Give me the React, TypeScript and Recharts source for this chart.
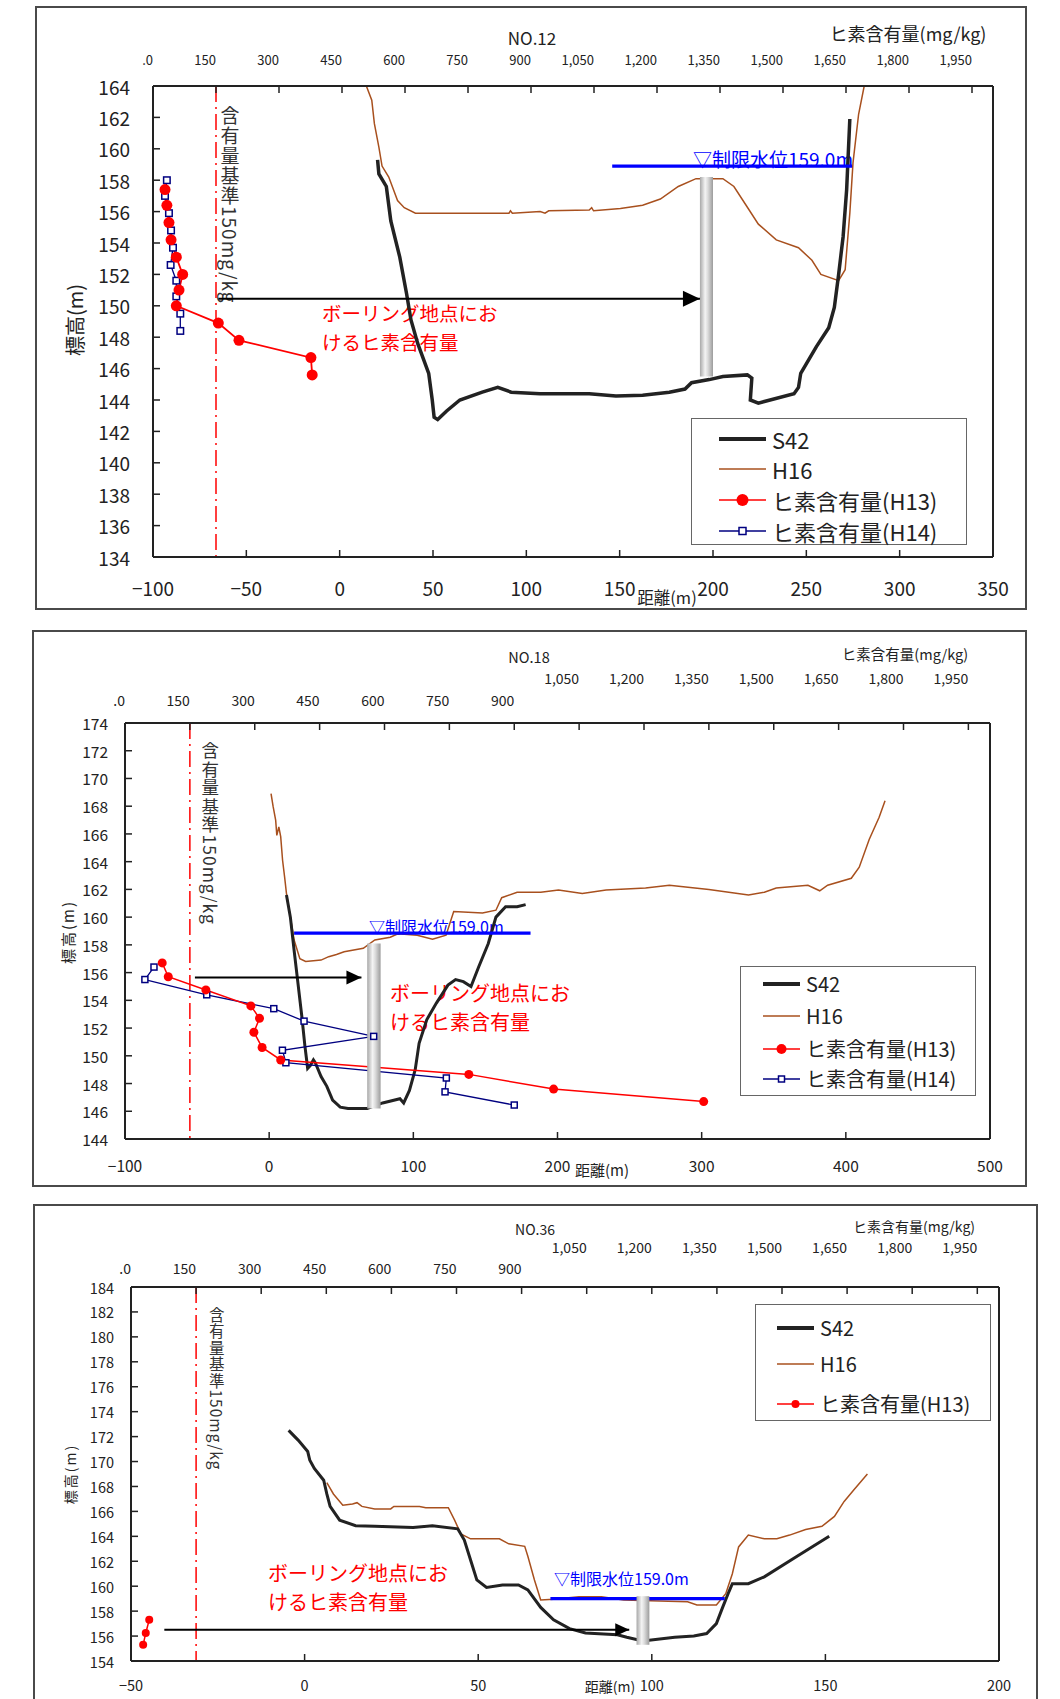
import React from 'react';
import { LineChart, Line, XAxis, YAxis, ReferenceLine, ReferenceArea } from 'recharts';

// shared top axis (ヒ素含有量 mg/kg)
const mgTicks = [0, 150, 300, 450, 600, 750, 900, 1050, 1200, 1350, 1500, 1650, 1800, 1950];
const mgLimit = 150;

// ---- NO.12 ---- [distance m, elevation m] / [mg/kg, elevation m]
const no12XTicks = [-100, -50, 0, 50, 100, 150, 200, 250, 300, 350];
const no12YTicks = [134, 136, 138, 140, 142, 144, 146, 148, 150, 152, 154, 156, 158, 160, 162, 164];
const no12S42 = [
  [20.3, 159.3], [21, 158.4], [25, 157.6], [27.4, 155.4], [32.2, 153.1], [35.8, 150.8], [38.2, 149.1],
  [41.8, 147.6], [47.7, 145.7], [49.6, 144.0], [50.6, 142.9], [52.5, 142.75], [57.3, 143.3], [64.4, 144.0],
  [76.4, 144.5], [84.7, 144.8], [91.9, 144.5], [107.4, 144.4], [133.7, 144.4], [148, 144.25], [162.3, 144.3],
  [176.6, 144.5], [185, 144.7], [188.5, 145.1], [198, 145.3], [205.3, 145.5], [218.4, 145.6], [220.8, 145.4],
  [220, 144.0], [224.3, 143.8], [243.4, 144.4], [245.8, 144.8], [247, 145.7], [255.4, 147.4], [262, 148.6],
  [265, 149.9], [267.3, 152.0], [269.7, 154.4], [271.6, 157.4], [273.3, 161.9],
];
const no12H16 = [
  [14.3, 164], [17.2, 163.1], [18.6, 161.6], [21, 160.1], [22.7, 158.9], [26.3, 158.2], [31, 156.7],
  [34.6, 156.25], [40.6, 155.9], [90.7, 155.9], [91.5, 156.05], [92.5, 155.9], [107.4, 156.0], [110, 155.9],
  [112, 156.05], [133.7, 156.1], [135, 156.25], [136, 156.05], [150.4, 156.2], [162.3, 156.4], [171.8, 156.8],
  [181.4, 157.6], [190.9, 158.1], [205.3, 158.1], [211.2, 157.6], [217.2, 156.5], [224.3, 155.2],
  [233.9, 154.2], [245.8, 153.7], [253, 152.9], [257.8, 152.0], [267.3, 151.6], [270.8, 152.3],
  [273.3, 155.9], [275, 159.1], [278, 162.2], [281, 164],
];
const no12H13 = [
  [28.6, 157.4], [33, 156.4], [38, 155.3], [43, 154.2], [55.5, 153.1], [70.6, 152.0], [61.9, 151.0],
  [55.5, 150.0], [155.5, 148.9], [204.7, 147.8], [376, 146.7], [379, 145.6],
];
const no12H14 = [
  [33, 158.0], [28.6, 157.0], [38, 155.9], [43, 154.8], [47.6, 153.7], [42, 152.6], [55.5, 151.6],
  [55.5, 150.6], [65, 149.5], [65, 148.4],
];
const no12Water = [[146, 158.9], [274.5, 158.9]];
const no12Boring = { from: 193, to: 200, bottom: 145.5, top: 158.2 };
const no12Arrow = [[-65, 150.45], [193, 150.45]];

// ---- NO.18 ----
const no18XTicks = [-100, 0, 100, 200, 300, 400, 500];
const no18YTicks = [144, 146, 148, 150, 152, 154, 156, 158, 160, 162, 164, 166, 168, 170, 172, 174];
const no18S42 = [
  [12, 161.6], [14.7, 160.0], [17.3, 157.6], [20, 155.2], [22.7, 152.8], [24.8, 150.7], [26.7, 149.1],
  [28.5, 149.3], [30.7, 149.7], [32, 149.5], [36, 148.5], [40, 147.8], [44, 146.8], [49.3, 146.3],
  [54.7, 146.2], [68, 146.2], [78.7, 146.6], [90.7, 146.9], [93.3, 146.6], [97.3, 147.5], [101.3, 149.0],
  [104, 150.9], [109.3, 152.6], [116, 153.8], [124, 155.1], [129.3, 155.5], [134.7, 155.35], [140, 155.0],
  [145.3, 156.4], [152, 158.1], [157.3, 160.0], [164, 160.75], [172, 160.75], [177.9, 160.9],
];
const no18H16 = [
  [1.3, 168.9], [2.7, 168.0], [4.5, 167.0], [5.3, 165.9], [6.7, 166.5], [8, 165.8], [9.3, 164.1],
  [10.7, 162.9], [12, 161.7], [14.7, 160.0], [17.3, 158.35], [21.3, 157.0], [25.3, 156.8], [36, 156.9],
  [41.3, 157.15], [46.7, 157.3], [52, 157.5], [65.3, 157.75], [73.3, 158.35], [84, 158.55], [89.3, 158.8],
  [102.7, 158.7], [113.3, 158.4], [122.7, 158.7], [128, 160.4], [148, 160.3], [157.3, 160.5],
  [161.3, 161.4], [172, 161.8], [188.4, 161.8], [200.7, 161.95], [217.2, 161.7], [233.7, 161.95],
  [261.1, 162.1], [277.6, 162.3], [305, 162.0], [332.5, 161.6], [343.5, 161.8], [351.7, 162.1],
  [373.7, 162.3], [381.9, 161.9], [387.4, 162.3], [403.8, 162.8], [409.3, 163.6], [416.2, 165.6],
  [423.1, 167.2], [427.2, 168.4],
];
const no18H13 = [
  [86, 156.7], [100, 155.7], [187, 154.75], [291, 153.6], [311, 152.7], [298, 151.7], [317, 150.6],
  [360, 149.7], [795, 148.66], [991, 147.6], [1338, 146.7],
];
const no18H14 = [
  [67, 156.4], [46, 155.5], [189, 154.4], [344, 153.4], [414, 152.5], [575, 151.4], [364, 150.4],
  [372, 149.5], [743, 148.4], [740, 147.4], [900, 146.45],
];
const no18Water = [[17.3, 158.85], [181.3, 158.85]];
const no18Boring = { from: 68, to: 77.3, bottom: 146.2, top: 158.1 };
const no18Arrow = [[-51.5, 155.65], [64, 155.65]];

// ---- NO.36 ----
const no36XTicks = [-50, 0, 50, 100, 150, 200];
const no36YTicks = [154, 156, 158, 160, 162, 164, 166, 168, 170, 172, 174, 176, 178, 180, 182, 184];
const no36S42 = [
  [-4.6, 172.5], [-1.8, 171.7], [0.9, 170.8], [1.5, 170.1], [2.8, 169.45], [5.5, 168.5], [6.4, 167.4],
  [7.35, 166.4], [10.1, 165.3], [14.7, 164.85], [20.2, 164.8], [31.25, 164.7], [36.8, 164.85],
  [44.1, 164.6], [46, 163.7], [47.8, 162.1], [49.6, 160.5], [52.4, 159.9], [57, 160.1], [61.6, 160.1],
  [64.3, 159.7], [68, 158.3], [71.7, 157.3], [76.3, 156.6], [80.9, 156.25], [90.1, 156.1], [92.8, 155.9],
  [97.4, 155.6], [106.6, 155.9], [112.1, 156.0], [115.8, 156.2], [118.6, 157.0], [120.4, 158.3],
  [122.2, 159.55], [123.2, 160.2], [127.8, 160.2], [132.4, 160.75], [141.5, 162.35], [151.1, 164.0],
];
const no36H16 = [
  [6.4, 168.3], [8.3, 167.4], [11, 166.5], [13.8, 166.6], [15.1, 166.7], [16.5, 166.4], [20.2, 166.2],
  [24.8, 166.2], [25.7, 166.4], [33.1, 166.4], [34.9, 166.3], [41.4, 166.3], [43.2, 165.3], [45, 164.2],
  [47.8, 163.8], [56.1, 163.8], [58.8, 163.4], [63.4, 163.2], [64.3, 162.4], [66.2, 160.5], [68, 158.9],
  [71.7, 158.95], [79, 159.15], [85.5, 159.15], [91.9, 158.9], [104.8, 158.8], [110.3, 158.75],
  [113, 158.5], [118.6, 158.5], [121.3, 159.4], [123.2, 161.0], [125, 163.15], [127.8, 164.1],
  [132.4, 163.8], [136, 163.8], [139.7, 164.1], [144.3, 164.55], [149, 164.8], [152.6, 165.6],
  [155.4, 166.8], [158.1, 167.7], [162.1, 169.0],
];
const no36H13 = [[42, 157.3], [34, 156.25], [28, 155.3]];
const no36Water = [[70.8, 159.0], [121, 159.0]];
const no36Boring = { from: 95.6, to: 99.3, bottom: 155.3, top: 159.2 };
const no36Arrow = [[-40.4, 156.5], [93.5, 156.5]];

const FONT = '"Noto Sans CJK JP", "Noto Sans", sans-serif';
const INK = '#222';
const BROWN = '#a8501e';
const RED = '#ff0000';
const NAVY = '#000080';
const BLUE = '#0000ff';

const asRows = (pts: number[][], key: string) => pts.map(([x, e]) => ({ [key]: x, e }));
const fmtTop = (v: number) => (v === 0 ? '.0' : v.toLocaleString('en-US'));
const fmtBottom = (v: number) => (v < 0 ? '\u2212' + Math.abs(v) : String(v));

// ticks point into the plot, labels sit outside
const bottomTick = (fs: number, gap: number) => (props: any) => (
  <g>
    <line x1={props.x} y1={props.y} x2={props.x} y2={props.y - 7} stroke={INK} strokeWidth={1.5} />
    <text x={props.x} y={props.y + gap} textAnchor="middle" dominantBaseline="central" fontSize={fs} fill={INK} fontFamily={FONT}>
      {fmtBottom(props.payload.value)}
    </text>
  </g>
);
const topTick = (fs: number, gap: number, gap2: number) => (props: any) => {
  const v = props.payload.value;
  return (
    <g>
      <line x1={props.x} y1={props.y} x2={props.x} y2={props.y + 7} stroke={INK} strokeWidth={1.5} />
      <text x={props.x} y={props.y - (v >= 1000 ? gap2 : gap)} textAnchor="end" dominantBaseline="central" fontSize={fs} fill={INK} fontFamily={FONT}>
        {fmtTop(v)}
      </text>
    </g>
  );
};
const leftTick = (fs: number, gap: number) => (props: any) => (
  <g>
    <line x1={props.x} y1={props.y} x2={props.x + 7} y2={props.y} stroke={INK} strokeWidth={1.5} />
    <text x={props.x - gap} y={props.y} textAnchor="end" dominantBaseline="central" fontSize={fs} fill={INK} fontFamily={FONT}>
      {props.payload.value}
    </text>
  </g>
);

const squareDot = (size: number) => (props: any) => (
  <rect key={`sq-${props.index}`} x={props.cx - size / 2} y={props.cy - size / 2} width={size} height={size}
    fill="#fff" stroke={NAVY} strokeWidth={1.5} />
);
const arrowHead = (len: number, half: number) => (props: any) =>
  props.index === 1 ? (
    <path key="head" d={`M${props.cx},${props.cy} L${props.cx - len},${props.cy - half} L${props.cx - len},${props.cy + half} Z`} fill="#000" />
  ) : (
    <g key={`tail-${props.index}`} />
  );

interface SectionProps {
  box: { left: number; top: number; width: number; height: number };
  margin: { top: number; right: number; bottom: number; left: number };
  xDomain: number[];
  xTicks: number[];
  yDomain: number[];
  yTicks: number[];
  s42: number[][];
  h16: number[][];
  h13: number[][];
  h14?: number[][];
  water: number[][];
  boring: { from: number; to: number; bottom: number; top: number };
  arrow: number[][];
  st: any;
}

const axisLine = { stroke: INK, strokeWidth: 2 };
const AX = 20; // room reserved for each axis inside the margin

function Section({ box, margin, xDomain, xTicks, yDomain, yTicks, s42, h16, h13, h14, water, boring, arrow, st }: SectionProps) {
  const m = { top: margin.top - AX, bottom: margin.bottom - AX, left: margin.left - AX, right: margin.right - AX };
  return (
    <div style={{ position: 'absolute', left: box.left, top: box.top }}>
      <LineChart width={box.width} height={box.height} margin={m}>
        <XAxis xAxisId="b" type="number" dataKey="d" domain={xDomain} ticks={xTicks} allowDataOverflow interval={0}
          height={AX} tickSize={0} tickMargin={0} tickLine={false} axisLine={axisLine} tick={bottomTick(st.xFs, st.xGap)} />
        <XAxis xAxisId="t" orientation="top" type="number" dataKey="mg" domain={[0, 2000]} ticks={mgTicks} allowDataOverflow
          interval={0} height={AX} tickSize={0} tickMargin={0} tickLine={false} axisLine={axisLine}
          tick={topTick(st.topFs, st.topGap, st.topGap2)} />
        <YAxis yAxisId="l" type="number" domain={yDomain} ticks={yTicks} allowDataOverflow interval={0} width={AX}
          tickSize={0} tickMargin={0} tickLine={false} axisLine={axisLine} tick={leftTick(st.yFs, st.yGap)} />
        <YAxis yAxisId="r" orientation="right" type="number" domain={yDomain} ticks={yTicks} allowDataOverflow width={AX}
          tick={false} tickLine={false} axisLine={axisLine} />
        <ReferenceLine xAxisId="t" yAxisId="l" x={mgLimit} stroke={RED} strokeWidth={1.5} strokeDasharray="16 5 2 5" />
        <Line xAxisId="b" yAxisId="l" data={asRows(h16, 'd')} dataKey="e" type="linear" stroke={BROWN}
          strokeWidth={1.5} dot={false} isAnimationActive={false} />
        <Line xAxisId="b" yAxisId="l" data={asRows(s42, 'd')} dataKey="e" type="linear" stroke={INK}
          strokeWidth={st.s42W} dot={false} isAnimationActive={false} />
        {h14 && (
          <Line xAxisId="t" yAxisId="l" data={asRows(h14, 'mg')} dataKey="e" type="linear" stroke={NAVY}
            strokeWidth={1.3} dot={squareDot(st.sq)} isAnimationActive={false} />
        )}
        <Line xAxisId="t" yAxisId="l" data={asRows(h13, 'mg')} dataKey="e" type="linear" stroke={RED}
          strokeWidth={st.redW} dot={{ r: st.dotR, fill: RED, stroke: RED, strokeWidth: 0 }} isAnimationActive={false} />
        <Line xAxisId="b" yAxisId="l" data={asRows(water, 'd')} dataKey="e" type="linear" stroke={BLUE}
          strokeWidth={3.2} dot={false} isAnimationActive={false} />
        <ReferenceArea xAxisId="b" yAxisId="l" x1={boring.from} x2={boring.to} y1={boring.bottom} y2={boring.top}
          fill="url(#boringGrad)" fillOpacity={1} stroke="none" zIndex={450} />
        <Line xAxisId="b" yAxisId="l" data={asRows(arrow, 'd')} dataKey="e" type="linear" stroke="#000"
          strokeWidth={2} dot={arrowHead(st.arrowLen, st.arrowHalf)} isAnimationActive={false} zIndex={460} />
      </LineChart>
    </div>
  );
}

const Txt = ({ x, y, fs, color = INK, rotate = 0, anchor = 'c', ls = 0, children }: any) => (
  <div
    style={{
      position: 'absolute', left: x, top: y, fontSize: fs, color, whiteSpace: 'nowrap', lineHeight: 1, letterSpacing: ls,
      transform: `translate(${anchor === 'l' ? '0' : anchor === 'r' ? '-100%' : '-50%'}, -50%)${rotate ? ` rotate(${rotate}deg)` : ''}`,
    }}
  >
    {children}
  </div>
);
// vertical caption: kanji upright, latin part turned sideways
const VText = ({ x, top, fs }: any) => (
  <div style={{ position: 'absolute', left: x - fs / 2, top, fontSize: fs, lineHeight: 1, writingMode: 'vertical-rl', textOrientation: 'mixed', letterSpacing: 1, color: '#333', whiteSpace: 'nowrap' }}>
    含有量基準150mg/kg
  </div>
);
const RedNote = ({ left, top, fs }: any) => (
  <div style={{ position: 'absolute', left, top, fontSize: fs, lineHeight: '29px', color: RED, whiteSpace: 'nowrap' }}>
    ボーリング地点にお<br />けるヒ素含有量
  </div>
);
const Frame = ({ left, top, width, height }: any) => (
  <div style={{ position: 'absolute', left, top, width, height, border: '2px solid #4a4a4a', boxSizing: 'border-box' }} />
);

const legendNames: Record<string, string> = { s42: 'S42', h16: 'H16', h13: 'ヒ素含有量(H13)', h14: 'ヒ素含有量(H14)' };

function Sample({ kind, w, r, sq }: any) {
  const c = 12;
  if (kind === 's42') return <svg width={w} height={24}><line x1={0} y1={c} x2={w} y2={c} stroke={INK} strokeWidth={4} /></svg>;
  if (kind === 'h16') return <svg width={w} height={24}><line x1={0} y1={c} x2={w} y2={c} stroke={BROWN} strokeWidth={1.5} /></svg>;
  if (kind === 'h13')
    return (
      <svg width={w} height={24}>
        <line x1={0} y1={c} x2={w} y2={c} stroke={RED} strokeWidth={1.5} />
        <circle cx={w / 2} cy={c} r={r} fill={RED} />
      </svg>
    );
  return (
    <svg width={w} height={24}>
      <line x1={0} y1={c} x2={w} y2={c} stroke={NAVY} strokeWidth={1.5} />
      <rect x={w / 2 - sq / 2} y={c - sq / 2} width={sq} height={sq} fill="#fff" stroke={NAVY} strokeWidth={1.5} />
    </svg>
  );
}

function LegendBox({ left, top, width, height, rows, items, fs, sx, sw, r, sq }: any) {
  return (
    <div style={{ position: 'absolute', left, top, width, height, border: '1.5px solid #666', background: '#fff', boxSizing: 'border-box' }}>
      {items.map((it: string, i: number) => (
        <div key={it} style={{ position: 'absolute', left: sx, top: rows[i] - 12, height: 24, display: 'flex', alignItems: 'center', whiteSpace: 'nowrap' }}>
          <Sample kind={it} w={sw} r={r} sq={sq} />
          <span style={{ fontSize: fs, marginLeft: 6, color: INK, lineHeight: 1 }}>{legendNames[it]}</span>
        </div>
      ))}
    </div>
  );
}

export default function App() {
  return (
    <div style={{ position: 'absolute', left: 0, top: 0, width: 1060, height: 1699, overflow: 'hidden', background: '#fff', fontFamily: FONT }}>
      <svg width={0} height={0} style={{ position: 'absolute' }}>
        <defs>
          <linearGradient id="boringGrad" x1="0" y1="0" x2="1" y2="0">
            <stop offset="0%" stopColor="#a8a8a8" />
            <stop offset="40%" stopColor="#f4f4f4" />
            <stop offset="60%" stopColor="#dcdcdc" />
            <stop offset="100%" stopColor="#9c9c9c" />
          </linearGradient>
        </defs>
      </svg>

      <Frame left={35} top={6} width={992} height={604} />
      <Frame left={32} top={630} width={995} height={557} />
      <Frame left={33} top={1204} width={1005} height={520} />

      {/* NO.12 texts */}
      <Txt x={532} y={37} fs={17}>NO.12</Txt>
      <Txt x={908} y={33} fs={18}>ヒ素含有量(mg/kg)</Txt>
      <Txt x={75} y={320} fs={20} rotate={-90}>標高(m)</Txt>
      <Txt x={667} y={597} fs={16.5}>距離(m)</Txt>
      <VText x={230} top={106} fs={19} />
      <RedNote left={322} top={298} fs={19.5} />
      <Txt x={853} y={158} fs={19} color={BLUE} anchor="r">▽制限水位159.0m</Txt>

      {/* NO.18 texts */}
      <Txt x={529} y={657} fs={14.5}>NO.18</Txt>
      <Txt x={905} y={654} fs={14.5}>ヒ素含有量(mg/kg)</Txt>
      <Txt x={67} y={932} fs={15} rotate={-90} ls={2}>標高(m)</Txt>
      <Txt x={602} y={1169} fs={15}>距離(m)</Txt>
      <VText x={210} top={742} fs={17.5} />
      <RedNote left={390} top={978} fs={20} />
      <Txt x={369} y={926} fs={16} color={BLUE} anchor="l">▽制限水位159.0m</Txt>

      {/* NO.36 texts */}
      <Txt x={535} y={1229} fs={14}>NO.36</Txt>
      <Txt x={914} y={1226} fs={14}>ヒ素含有量(mg/kg)</Txt>
      <Txt x={70} y={1474} fs={14} rotate={-90} ls={2}>標高(m)</Txt>
      <Txt x={610} y={1686} fs={14}>距離(m)</Txt>
      <VText x={216} top={1307} fs={15.5} />
      <RedNote left={268} top={1558} fs={20} />
      <Txt x={554} y={1578} fs={16} color={BLUE} anchor="l">▽制限水位159.0m</Txt>

      <Section
        box={{ left: 35, top: 6, width: 992, height: 604 }}
        margin={{ top: 80, right: 34, bottom: 53, left: 118 }}
        xDomain={[-100, 350]} xTicks={no12XTicks} yDomain={[134, 164]} yTicks={no12YTicks}
        s42={no12S42} h16={no12H16} h13={no12H13} h14={no12H14} water={no12Water} boring={no12Boring} arrow={no12Arrow}
        st={{ xFs: 19, xGap: 30, topFs: 13, topGap: 27, topGap2: 27, yFs: 19, yGap: 23, s42W: 3.5, sq: 6.5, dotR: 5.5, redW: 1.8, arrowLen: 17, arrowHalf: 8 }}
      />
      <Section
        box={{ left: 32, top: 630, width: 995, height: 557 }}
        margin={{ top: 93, right: 37, bottom: 48, left: 93 }}
        xDomain={[-100, 500]} xTicks={no18XTicks} yDomain={[144, 174]} yTicks={no18YTicks}
        s42={no18S42} h16={no18H16} h13={no18H13} h14={no18H14} water={no18Water} boring={no18Boring} arrow={no18Arrow}
        st={{ xFs: 15.5, xGap: 26, topFs: 14, topGap: 23, topGap2: 45, yFs: 15.5, yGap: 17, s42W: 3, sq: 6, dotR: 4.5, redW: 1.5, arrowLen: 15, arrowHalf: 7 }}
      />
      <Section
        box={{ left: 33, top: 1204, width: 1005, height: 495 }}
        margin={{ top: 83, right: 39, bottom: 38, left: 98 }}
        xDomain={[-50, 200]} xTicks={no36XTicks} yDomain={[154, 184]} yTicks={no36YTicks}
        s42={no36S42} h16={no36H16} h13={no36H13} water={no36Water} boring={no36Boring} arrow={no36Arrow}
        st={{ xFs: 14.5, xGap: 23, topFs: 14, topGap: 19, topGap2: 40, yFs: 14.5, yGap: 17, s42W: 3, sq: 6, dotR: 4, redW: 1.5, arrowLen: 14, arrowHalf: 6.5 }}
      />

      <LegendBox left={691} top={418} width={276} height={127} rows={[20, 50, 81, 112]} items={['s42', 'h16', 'h13', 'h14']}
        fs={22} sx={27} sw={47} r={6} sq={7} />
      <LegendBox left={740} top={966} width={236} height={130} rows={[17, 49, 82, 112]} items={['s42', 'h16', 'h13', 'h14']}
        fs={20} sx={22} sw={37} r={5} sq={6} />
      <LegendBox left={755} top={1304} width={236} height={117} rows={[23, 59, 99]} items={['s42', 'h16', 'h13']}
        fs={20} sx={21} sw={37} r={4} sq={6} />
    </div>
  );
}
